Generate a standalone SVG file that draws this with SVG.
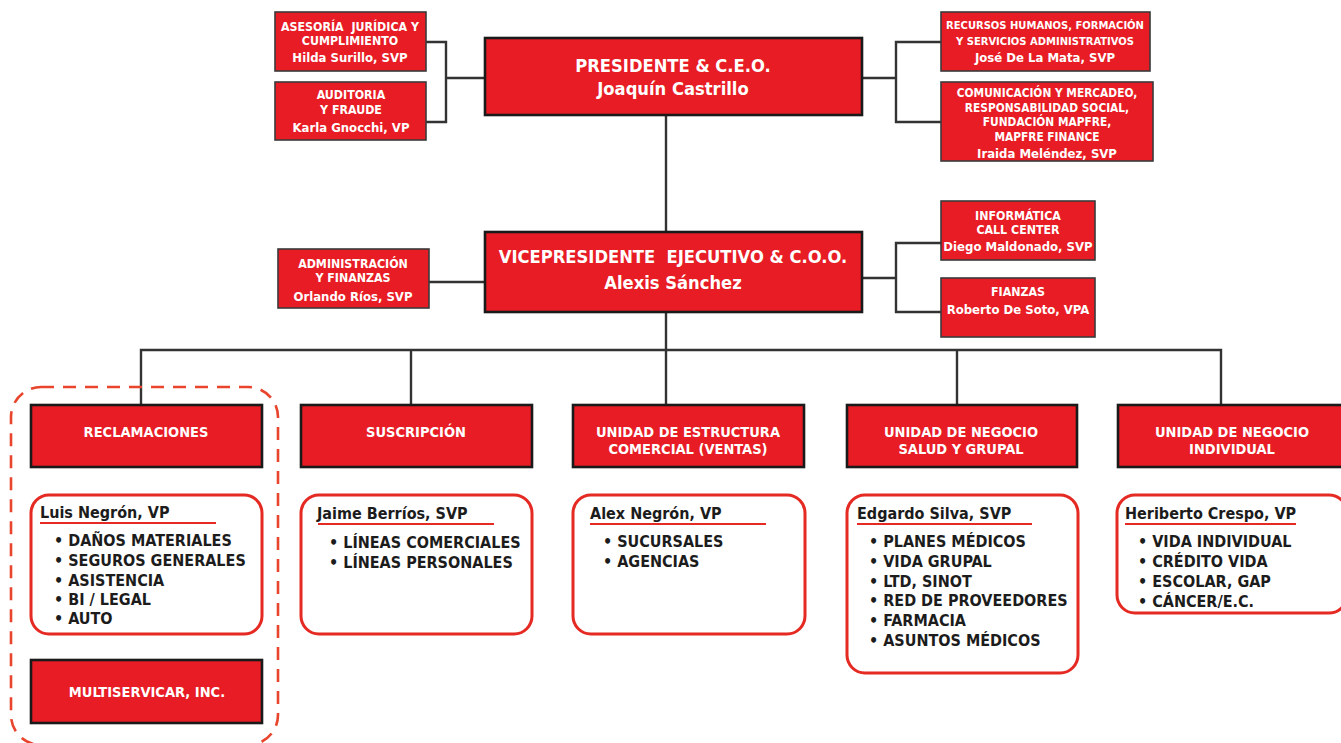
<svg xmlns="http://www.w3.org/2000/svg" width="1341" height="743" viewBox="0 0 1341 743">
<style>
.rb{fill:#e81c24;stroke:#3a3a3a;stroke-width:1.6}
.rbk{fill:#e81c24;stroke:#1a1a1a;stroke-width:2.6}
.wb{fill:#fff;stroke:#e42a22;stroke-width:3}
.t{font-family:"DejaVu Sans Condensed","DejaVu Sans","Liberation Sans",sans-serif;font-weight:bold;font-stretch:condensed;fill:#fff;text-anchor:middle}
.s{font-size:12.3px}
.n{font-size:13px}
.m{font-size:14.5px}
.l{font-size:18.2px}
.k{font-family:"DejaVu Sans Condensed","DejaVu Sans","Liberation Sans",sans-serif;font-weight:bold;font-stretch:condensed;fill:#1c1c1c}
.h{font-size:16px}
.b{font-size:16px}
.u{stroke:#e42a22;stroke-width:2}
.c{fill:none;stroke:#333;stroke-width:2.4}
</style>
<rect width="1341" height="743" fill="#fff"/>
<g id="connectors" class="c">
<path d="M426 42H446V122H426M446 78H485"/>
<path d="M862 78H896M941 42H896V122H941"/>
<path d="M666 115V232"/>
<path d="M429 282H485"/>
<path d="M862 278H896M941 243H896V312H941"/>
<path d="M666 312V405"/>
<path d="M141 405V350H1221V405M411 350V405M957 350V405"/>
</g>
<rect id="group-reclamaciones" x="11" y="387" width="267" height="358" rx="30" fill="none" stroke="#e8452c" stroke-width="2.6" stroke-dasharray="13 9"/>
<g id="asesoria"><rect class="rb" x="275" y="12" width="151" height="59"/>
<text class="t s" x="350" y="31" xml:space="preserve">ASESORÍA  JURÍDICA Y</text><text class="t s" x="350" y="45">CUMPLIMIENTO</text><text class="t n" x="350" y="62">Hilda Surillo, SVP</text></g>
<g id="auditoria"><rect class="rb" x="275" y="82" width="151" height="58"/>
<text class="t s" x="351" y="99">AUDITORIA</text><text class="t s" x="351" y="114">Y FRAUDE</text><text class="t n" x="351" y="132">Karla Gnocchi, VP</text></g>
<g id="presidente"><rect class="rbk" x="485" y="38" width="377" height="77"/>
<text class="t l" x="673" y="72">PRESIDENTE &amp; C.E.O.</text><text class="t l" x="673" y="95">Joaquín Castrillo</text></g>
<g id="rrhh"><rect class="rb" x="941" y="12" width="209" height="59"/>
<text class="t" style="font-size:11.1px" x="1045" y="29">RECURSOS HUMANOS, FORMACIÓN</text><text class="t" style="font-size:11.1px" x="1045" y="45">Y SERVICIOS ADMINISTRATIVOS</text><text class="t n" x="1045" y="62">José De La Mata, SVP</text></g>
<g id="comunicacion"><rect class="rb" x="941" y="82" width="212" height="79"/>
<text class="t" style="font-size:11.8px" x="1047" y="97">COMUNICACIÓN Y MERCADEO,</text><text class="t" style="font-size:11.8px" x="1047" y="112">RESPONSABILIDAD SOCIAL,</text><text class="t" style="font-size:11.8px" x="1047" y="126">FUNDACIÓN MAPFRE,</text><text class="t" style="font-size:11.8px" x="1047" y="141">MAPFRE FINANCE</text><text class="t n" x="1047" y="158">Iraida Meléndez, SVP</text></g>
<g id="administracion"><rect class="rb" x="278" y="249" width="151" height="59"/>
<text class="t s" x="353" y="268">ADMINISTRACIÓN</text><text class="t s" x="353" y="282">Y FINANZAS</text><text class="t n" x="353" y="301">Orlando Ríos, SVP</text></g>
<g id="vicepresidente"><rect class="rbk" x="485" y="232" width="377" height="80"/>
<text class="t l" x="673" y="263" xml:space="preserve">VICEPRESIDENTE  EJECUTIVO &amp; C.O.O.</text><text class="t l" x="673" y="289">Alexis Sánchez</text></g>
<g id="informatica"><rect class="rb" x="941" y="201" width="154" height="59"/>
<text class="t s" x="1018" y="220">INFORMÁTICA</text><text class="t s" x="1018" y="234">CALL CENTER</text><text class="t n" x="1018" y="251">Diego Maldonado, SVP</text></g>
<g id="fianzas"><rect class="rb" x="941" y="278" width="154" height="59"/>
<text class="t s" x="1018" y="296">FIANZAS</text><text class="t n" x="1018" y="314">Roberto De Soto, VPA</text></g>
<g id="reclamaciones"><rect class="rbk" x="31" y="405" width="231" height="62"/>
<text class="t m" x="146" y="437">RECLAMACIONES</text></g>
<g id="suscripcion"><rect class="rbk" x="301" y="405" width="231" height="62"/>
<text class="t m" x="416" y="437">SUSCRIPCIÓN</text></g>
<g id="estructura"><rect class="rbk" x="573" y="405" width="231" height="62"/>
<text class="t m" x="688" y="437">UNIDAD DE ESTRUCTURA</text><text class="t m" x="688" y="454">COMERCIAL (VENTAS)</text></g>
<g id="salud"><rect class="rbk" x="847" y="405" width="230" height="62"/>
<text class="t m" x="961" y="437">UNIDAD DE NEGOCIO</text><text class="t m" x="961" y="454">SALUD Y GRUPAL</text></g>
<g id="individual"><rect class="rbk" x="1118" y="405" width="226" height="62"/>
<text class="t m" x="1232" y="437">UNIDAD DE NEGOCIO</text><text class="t m" x="1232" y="454">INDIVIDUAL</text></g>
<g id="luis"><rect class="wb" x="31" y="495" width="231" height="139" rx="18"/>
<text class="k h" x="40" y="518">Luis Negrón, VP</text><line class="u" x1="40" y1="523" x2="216" y2="523"/>
<text class="k b" x="54" y="546">• DAÑOS MATERIALES</text><text class="k b" x="54" y="566">• SEGUROS GENERALES</text><text class="k b" x="54" y="586">• ASISTENCIA</text><text class="k b" x="54" y="605">• BI / LEGAL</text><text class="k b" x="54" y="624">• AUTO</text></g>
<g id="jaime"><rect class="wb" x="301" y="495" width="231" height="139" rx="18"/>
<text class="k h" x="317" y="519">Jaime Berríos, SVP</text><line class="u" x1="318" y1="524" x2="494" y2="524"/>
<text class="k b" x="329" y="548">• LÍNEAS COMERCIALES</text><text class="k b" x="329" y="568">• LÍNEAS PERSONALES</text></g>
<g id="alex"><rect class="wb" x="573" y="495" width="232" height="139" rx="18"/>
<text class="k h" x="590" y="519">Alex Negrón, VP</text><line class="u" x1="590" y1="524" x2="766" y2="524"/>
<text class="k b" x="603" y="547">• SUCURSALES</text><text class="k b" x="603" y="567">• AGENCIAS</text></g>
<g id="edgardo"><rect class="wb" x="847" y="495" width="231" height="178" rx="18"/>
<text class="k h" x="857" y="519">Edgardo Silva, SVP</text><line class="u" x1="857" y1="524" x2="1032" y2="524"/>
<text class="k b" x="869" y="547">• PLANES MÉDICOS</text><text class="k b" x="869" y="567">• VIDA GRUPAL</text><text class="k b" x="869" y="587">• LTD, SINOT</text><text class="k b" x="869" y="606">• RED DE PROVEEDORES</text><text class="k b" x="869" y="626">• FARMACIA</text><text class="k b" x="869" y="646">• ASUNTOS MÉDICOS</text></g>
<g id="heriberto"><rect class="wb" x="1117" y="495" width="230" height="118" rx="18"/>
<text class="k h" x="1125" y="519">Heriberto Crespo, VP</text><line class="u" x1="1125" y1="524" x2="1296" y2="524"/>
<text class="k b" x="1138" y="547">• VIDA INDIVIDUAL</text><text class="k b" x="1138" y="567">• CRÉDITO VIDA</text><text class="k b" x="1138" y="587">• ESCOLAR, GAP</text><text class="k b" x="1138" y="607">• CÁNCER/E.C.</text></g>
<g id="multiservicar"><rect class="rbk" x="31" y="660" width="231" height="63"/>
<text class="t m" x="147" y="697">MULTISERVICAR, INC.</text></g>
</svg>
